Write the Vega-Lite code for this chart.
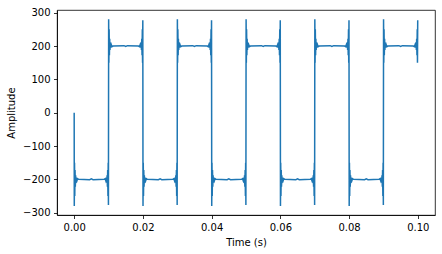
{
  "$schema": "https://vega.github.io/schema/vega-lite/v6.json",
  "width": 378,
  "height": 205,
  "autosize": {"type": "none"},
  "padding": {"left": 57, "top": 10, "right": 7, "bottom": 39},
  "background": "white",
  "config": {
    "view": {"stroke": "#000", "strokeWidth": 0.8},
    "axis": {
      "labelFont": "DejaVu Sans", "labelFontSize": 10, "labelColor": "#000",
      "titleFont": "DejaVu Sans", "titleFontSize": 10, "titleFontWeight": "normal", "titleColor": "#000",
      "tickColor": "#000", "tickSize": 3.5, "tickWidth": 0.8, "labelPadding": 3.5,
      "domainColor": "#000", "domainWidth": 0.8, "grid": false
    }
  },
  "data": {"values": [
    {"t":0,"a":0},
    {"t":0.00003,"a":-280},{"t":0.0001,"a":-150},{"t":0.00017,"a":-250},{"t":0.00025,"a":-172},{"t":0.00033,"a":-222},{"t":0.00042,"a":-188},{"t":0.0005,"a":-210},{"t":0.0006,"a":-195},{"t":0.0008,"a":-204},{"t":0.001,"a":-198},
    {"t":0.0013,"a":-200},{"t":0.0045,"a":-201},{"t":0.005,"a":-198.5},{"t":0.0055,"a":-201},{"t":0.0087,"a":-200},
    {"t":0.009,"a":-198},{"t":0.0092,"a":-204},{"t":0.0094,"a":-195},{"t":0.0095,"a":-210},{"t":0.00958,"a":-188},{"t":0.00967,"a":-222},{"t":0.00975,"a":-172},{"t":0.00983,"a":-250},{"t":0.0099,"a":-150},{"t":0.00997,"a":-277},
    {"t":0.01003,"a":280},{"t":0.0101,"a":150},{"t":0.01017,"a":250},{"t":0.01025,"a":172},{"t":0.01033,"a":222},{"t":0.01042,"a":188},{"t":0.0105,"a":210},{"t":0.0106,"a":195},{"t":0.0108,"a":204},{"t":0.011,"a":198},
    {"t":0.0113,"a":200},{"t":0.0145,"a":201},{"t":0.015,"a":198.5},{"t":0.0155,"a":201},{"t":0.0187,"a":200},
    {"t":0.019,"a":198},{"t":0.0192,"a":204},{"t":0.0194,"a":195},{"t":0.0195,"a":210},{"t":0.01958,"a":188},{"t":0.01967,"a":222},{"t":0.01975,"a":172},{"t":0.01983,"a":250},{"t":0.0199,"a":150},{"t":0.01997,"a":277},
    {"t":0.02003,"a":-280},{"t":0.0201,"a":-150},{"t":0.02017,"a":-250},{"t":0.02025,"a":-172},{"t":0.02033,"a":-222},{"t":0.02042,"a":-188},{"t":0.0205,"a":-210},{"t":0.0206,"a":-195},{"t":0.0208,"a":-204},{"t":0.021,"a":-198},
    {"t":0.0213,"a":-200},{"t":0.0245,"a":-201},{"t":0.025,"a":-198.5},{"t":0.0255,"a":-201},{"t":0.0287,"a":-200},
    {"t":0.029,"a":-198},{"t":0.0292,"a":-204},{"t":0.0294,"a":-195},{"t":0.0295,"a":-210},{"t":0.02958,"a":-188},{"t":0.02967,"a":-222},{"t":0.02975,"a":-172},{"t":0.02983,"a":-250},{"t":0.0299,"a":-150},{"t":0.02997,"a":-277},
    {"t":0.03003,"a":280},{"t":0.0301,"a":150},{"t":0.03017,"a":250},{"t":0.03025,"a":172},{"t":0.03033,"a":222},{"t":0.03042,"a":188},{"t":0.0305,"a":210},{"t":0.0306,"a":195},{"t":0.0308,"a":204},{"t":0.031,"a":198},
    {"t":0.0313,"a":200},{"t":0.0345,"a":201},{"t":0.035,"a":198.5},{"t":0.0355,"a":201},{"t":0.0387,"a":200},
    {"t":0.039,"a":198},{"t":0.0392,"a":204},{"t":0.0394,"a":195},{"t":0.0395,"a":210},{"t":0.03958,"a":188},{"t":0.03967,"a":222},{"t":0.03975,"a":172},{"t":0.03983,"a":250},{"t":0.0399,"a":150},{"t":0.03997,"a":277},
    {"t":0.04003,"a":-280},{"t":0.0401,"a":-150},{"t":0.04017,"a":-250},{"t":0.04025,"a":-172},{"t":0.04033,"a":-222},{"t":0.04042,"a":-188},{"t":0.0405,"a":-210},{"t":0.0406,"a":-195},{"t":0.0408,"a":-204},{"t":0.041,"a":-198},
    {"t":0.0413,"a":-200},{"t":0.0445,"a":-201},{"t":0.045,"a":-198.5},{"t":0.0455,"a":-201},{"t":0.0487,"a":-200},
    {"t":0.049,"a":-198},{"t":0.0492,"a":-204},{"t":0.0494,"a":-195},{"t":0.0495,"a":-210},{"t":0.04958,"a":-188},{"t":0.04967,"a":-222},{"t":0.04975,"a":-172},{"t":0.04983,"a":-250},{"t":0.0499,"a":-150},{"t":0.04997,"a":-277},
    {"t":0.05003,"a":280},{"t":0.0501,"a":150},{"t":0.05017,"a":250},{"t":0.05025,"a":172},{"t":0.05033,"a":222},{"t":0.05042,"a":188},{"t":0.0505,"a":210},{"t":0.0506,"a":195},{"t":0.0508,"a":204},{"t":0.051,"a":198},
    {"t":0.0513,"a":200},{"t":0.0545,"a":201},{"t":0.055,"a":198.5},{"t":0.0555,"a":201},{"t":0.0587,"a":200},
    {"t":0.059,"a":198},{"t":0.0592,"a":204},{"t":0.0594,"a":195},{"t":0.0595,"a":210},{"t":0.05958,"a":188},{"t":0.05967,"a":222},{"t":0.05975,"a":172},{"t":0.05983,"a":250},{"t":0.0599,"a":150},{"t":0.05997,"a":277},
    {"t":0.06003,"a":-280},{"t":0.0601,"a":-150},{"t":0.06017,"a":-250},{"t":0.06025,"a":-172},{"t":0.06033,"a":-222},{"t":0.06042,"a":-188},{"t":0.0605,"a":-210},{"t":0.0606,"a":-195},{"t":0.0608,"a":-204},{"t":0.061,"a":-198},
    {"t":0.0613,"a":-200},{"t":0.0645,"a":-201},{"t":0.065,"a":-198.5},{"t":0.0655,"a":-201},{"t":0.0687,"a":-200},
    {"t":0.069,"a":-198},{"t":0.0692,"a":-204},{"t":0.0694,"a":-195},{"t":0.0695,"a":-210},{"t":0.06958,"a":-188},{"t":0.06967,"a":-222},{"t":0.06975,"a":-172},{"t":0.06983,"a":-250},{"t":0.0699,"a":-150},{"t":0.06997,"a":-277},
    {"t":0.07003,"a":280},{"t":0.0701,"a":150},{"t":0.07017,"a":250},{"t":0.07025,"a":172},{"t":0.07033,"a":222},{"t":0.07042,"a":188},{"t":0.0705,"a":210},{"t":0.0706,"a":195},{"t":0.0708,"a":204},{"t":0.071,"a":198},
    {"t":0.0713,"a":200},{"t":0.0745,"a":201},{"t":0.075,"a":198.5},{"t":0.0755,"a":201},{"t":0.0787,"a":200},
    {"t":0.079,"a":198},{"t":0.0792,"a":204},{"t":0.0794,"a":195},{"t":0.0795,"a":210},{"t":0.07958,"a":188},{"t":0.07967,"a":222},{"t":0.07975,"a":172},{"t":0.07983,"a":250},{"t":0.0799,"a":150},{"t":0.07997,"a":277},
    {"t":0.08003,"a":-280},{"t":0.0801,"a":-150},{"t":0.08017,"a":-250},{"t":0.08025,"a":-172},{"t":0.08033,"a":-222},{"t":0.08042,"a":-188},{"t":0.0805,"a":-210},{"t":0.0806,"a":-195},{"t":0.0808,"a":-204},{"t":0.081,"a":-198},
    {"t":0.0813,"a":-200},{"t":0.0845,"a":-201},{"t":0.085,"a":-198.5},{"t":0.0855,"a":-201},{"t":0.0887,"a":-200},
    {"t":0.089,"a":-198},{"t":0.0892,"a":-204},{"t":0.0894,"a":-195},{"t":0.0895,"a":-210},{"t":0.08958,"a":-188},{"t":0.08967,"a":-222},{"t":0.08975,"a":-172},{"t":0.08983,"a":-250},{"t":0.0899,"a":-150},{"t":0.08997,"a":-277},
    {"t":0.09003,"a":280},{"t":0.0901,"a":150},{"t":0.09017,"a":250},{"t":0.09025,"a":172},{"t":0.09033,"a":222},{"t":0.09042,"a":188},{"t":0.0905,"a":210},{"t":0.0906,"a":195},{"t":0.0908,"a":204},{"t":0.091,"a":198},
    {"t":0.0913,"a":200},{"t":0.0945,"a":201},{"t":0.095,"a":198.5},{"t":0.0955,"a":201},{"t":0.0987,"a":200},
    {"t":0.099,"a":198},{"t":0.0992,"a":204},{"t":0.0994,"a":195},{"t":0.0995,"a":210},{"t":0.09958,"a":188},{"t":0.09967,"a":222},{"t":0.09975,"a":172},{"t":0.09983,"a":250},{"t":0.0999,"a":150},{"t":0.09997,"a":277}
  ]},
  "mark": {"type": "line", "color": "#1f77b4", "strokeWidth": 1.5, "clip": true},
  "encoding": {
    "x": {
      "field": "t", "type": "quantitative", "title": "Time (s)",
      "scale": {"domain": [-0.005, 0.105], "nice": false, "zero": false},
      "axis": {"values": [0, 0.02, 0.04, 0.06, 0.08, 0.1], "format": ".2f", "titlePadding": 5}
    },
    "y": {
      "field": "a", "type": "quantitative", "title": "Amplitude",
      "scale": {"domain": [-307, 308], "nice": false, "zero": false},
      "axis": {"values": [-300, -200, -100, 0, 100, 200, 300], "titlePadding": 6}
    }
  }
}
